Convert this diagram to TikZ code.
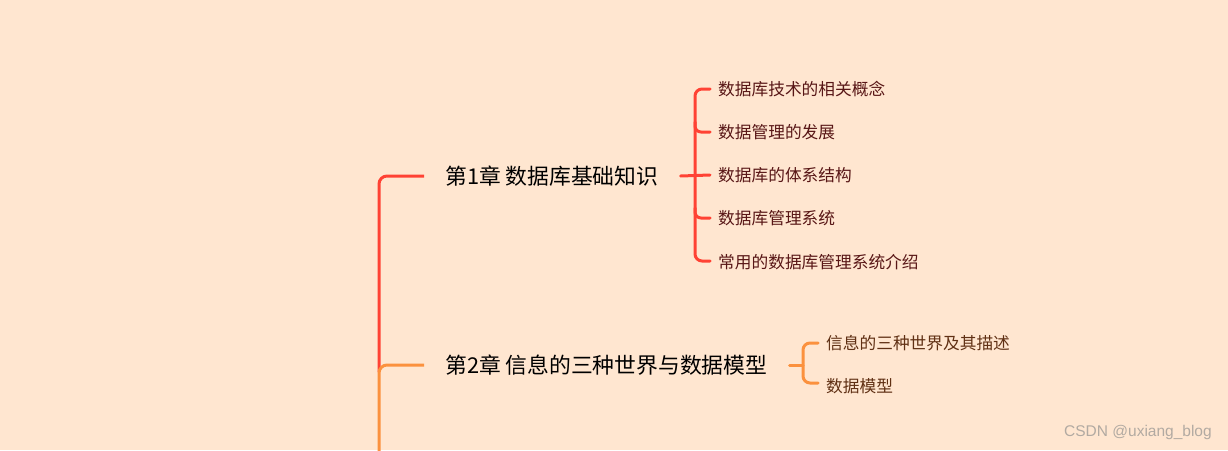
\documentclass[tikz,border=0pt]{standalone}
\usepackage{fontspec}
\setmainfont{Noto Sans CJK SC}
\newfontfamily\wmfont{Liberation Sans}
\usetikzlibrary{calc}
\definecolor{bgc}{RGB}{255,230,208}
\definecolor{redc}{RGB}{255,66,52}
\definecolor{orangec}{RGB}{251,145,62}
\definecolor{subred}{RGB}{88,22,22}
\definecolor{suborange}{RGB}{96,48,20}
\definecolor{wmc}{RGB}{178,170,162}
\tikzset{
  chapter/.style={anchor=west, inner sep=0pt, font=\fontsize{21.8}{24}\selectfont, text=black},
  subtopic/.style={anchor=west, inner sep=0pt, font=\fontsize{16.7}{19}\selectfont},
  redline/.style={draw=redc, line width=3pt, line cap=round},
  orangeline/.style={draw=orangec, line width=3pt, line cap=round},
}
\begin{document}
\begin{tikzpicture}[x=1pt,y=-1pt]
\useasboundingbox[fill=bgc] (0,0) rectangle (1228,450);
% chapter nodes
\node[chapter] (c1) at (445,176) {第1章 数据库基础知识};
\node[chapter] (c2) at (445,365) {第2章 信息的三种世界与数据模型};
% chapter 1 subtopics
\node[subtopic, text=subred] (s11) at (718,89) {数据库技术的相关概念};
\node[subtopic, text=subred] (s12) at (718,132) {数据管理的发展};
\node[subtopic, text=subred] (s13) at (718,175) {数据库的体系结构};
\node[subtopic, text=subred] (s14) at (718,218) {数据库管理系统};
\node[subtopic, text=subred] (s15) at (718,262) {常用的数据库管理系统介绍};
% chapter 2 subtopics
\node[subtopic, text=suborange] (s21) at (826,343) {信息的三种世界及其描述};
\node[subtopic, text=suborange] (s22) at (826,386) {数据模型};
% watermark
\node[anchor=west, inner sep=0pt, text=wmc, font=\wmfont\fontsize{15.5}{18}\selectfont] (wm) at (1064,432) {CSDN @uxiang\_blog};
% trunk
\coordinate (trunkend) at (379,452);
\draw[redline, line cap=butt, rounded corners=8] ($(c1.west)+(-21,0)$) -| (379,372);
\draw[orangeline, line cap=butt, rounded corners=8] ($(c2.west)+(-21,0)$) -| (trunkend);
% chapter 1 bracket
\draw[redline] ($(c1.east)+(22,0)$) -- ($(s13.west)+(-8,0)$);
\draw[redline, rounded corners=7] ($(s11.west)+(-8,0)$) -| (695,176) |- ($(s15.west)+(-8,-1)$);
\draw[redline, rounded corners=6] (695,122) |- ($(s12.west)+(-8,0)$);
\draw[redline, rounded corners=6] (695,208) |- ($(s14.west)+(-8,0)$);
% chapter 2 bracket
\draw[orangeline] ($(c2.east)+(22,0)$) -- (803,365);
\draw[orangeline, rounded corners=7] ($(s21.west)+(-8,0)$) -| (803,365) |- ($(s22.west)+(-8,-3)$);
\end{tikzpicture}
\end{document}
